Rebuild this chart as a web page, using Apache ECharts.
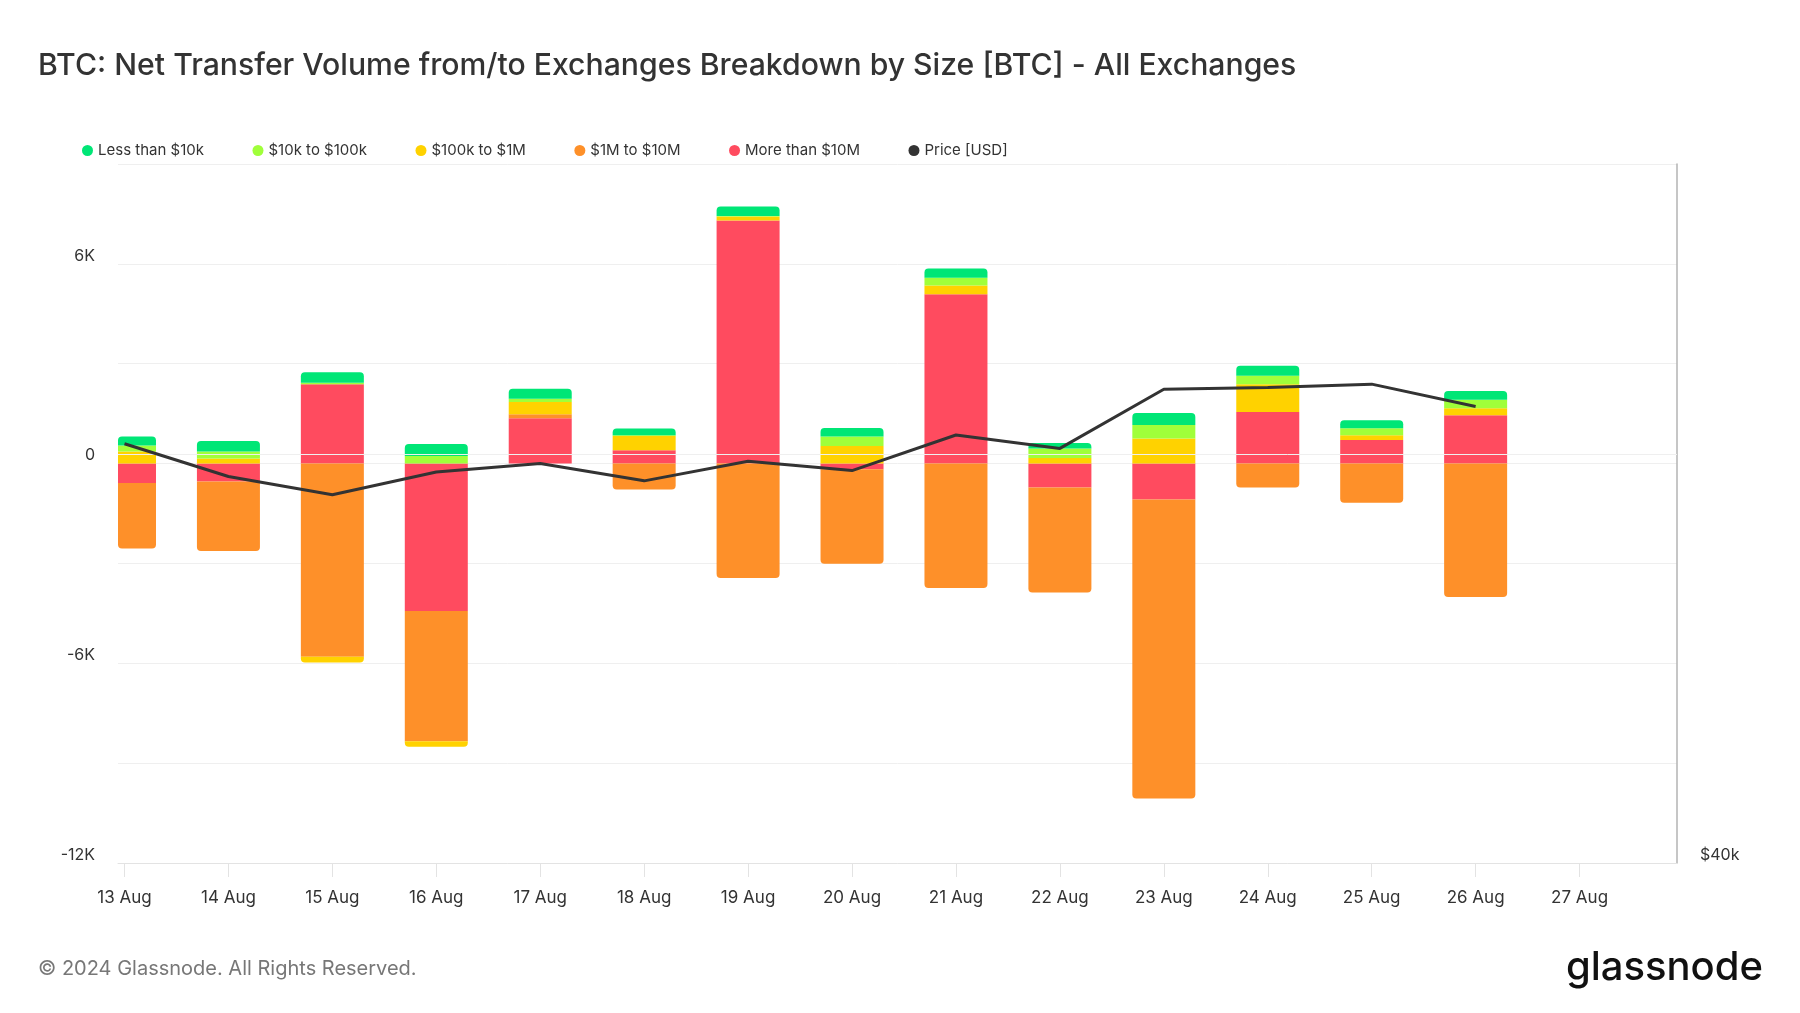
<!DOCTYPE html>
<html>
<head>
<meta charset="utf-8">
<script src="https://cdn.jsdelivr.net/npm/echarts@6/dist/echarts.min.js"></script>
<style>
html,body{margin:0;padding:0;background:#ffffff;}
#chart{width:1800px;height:1013px;}
</style>
</head>
<body>
<div id="chart"></div>
<script>
// ---- data (BTC) ----
const dayLabels = ['13 Aug','14 Aug','15 Aug','16 Aug','17 Aug','18 Aug','19 Aug','20 Aug','21 Aug','22 Aug','23 Aug','24 Aug','25 Aug','26 Aug','27 Aug'];
const lessThan10k   = [270, 320, 310, 360, 300, 200, 280, 260, 280, 170, 360, 300, 240, 260];
const from10kTo100k = [180, 210, 50, 230, 100, 20, 20, 280, 230, 280, 410, 260, 210, 260];
const from100kTo1M  = [360, 150, -180, -170, 370, 430, 120, 530, 260, 170, 750, 830, 140, 210];
const from1MTo10M   = [-1970, -2090, -5800, -3910, 120, -780, -3440, -2840, -3740, -3150, -8980, -720, -1180, -4010];
const moreThan10M   = [-580, -540, 2380, -4430, 1360, 400, 7300, -170, 5090, -720, -1080, 1550, 710, 1450];
const priceUSD      = [60620, 58680, 57630, 58940, 59450, 58430, 59580, 59030, 61150, 60340, 63990, 64100, 64310, 62900];
const leftTickLabels = [-12000, -6000, 0, 6000];
const priceTickLabels = [40000];
const priceGridValues = [60000];

const FONT = 'Inter, "Noto Sans", sans-serif';

// hourly category axis: 12 Aug 23:00 ... 28 Aug 22:00 (hour offsets from 13 Aug 00:00)
const HOURS = 360, FIRST_OFFSET = -1;
const hourOffsets = Array.from({length: HOURS}, (_, h) => h + FIRST_OFFSET);
const slotOfDay = i => i * 24 - FIRST_OFFSET;
const isDayStart = idx => (idx + FIRST_OFFSET) % 24 === 0 && (idx + FIRST_OFFSET) >= 0;

const stackOrder = [
  {name: 'More than $10M', data: moreThan10M,   color: '#ff4b5f'},
  {name: '$1M to $10M',    data: from1MTo10M,   color: '#fe9029'},
  {name: '$100k to $1M',   data: from100kTo1M,  color: '#ffd200'},
  {name: '$10k to $100k',  data: from10kTo100k, color: '#a0ff3a'},
  {name: 'Less than $10k', data: lessThan10k,   color: '#00e676'}
];

const outerPos = [], outerNeg = [];
for (let i = 0; i < priceUSD.length; i++) {
  let p = -1, q = -1;
  stackOrder.forEach((s, k) => { if (s.data[i] > 0) p = k; if (s.data[i] < 0) q = k; });
  outerPos.push(p); outerNeg.push(q);
}

function spread(values, mapItem) {
  const out = new Array(HOURS).fill(null);
  values.forEach((v, i) => { out[slotOfDay(i)] = mapItem(v, i); });
  return out;
}

const barSeries = stackOrder.map((s, k) => ({
  name: s.name,
  type: 'bar',
  stack: 'volume',
  barWidth: 63,
  clip: true,
  z: 2,
  itemStyle: {color: s.color},
  emphasis: {disabled: true},
  data: spread(s.data, (v, i) => ({
    value: v,
    itemStyle: {
      borderRadius: (v > 0 && outerPos[i] === k) ? [4, 4, 0, 0] : ((v < 0 && outerNeg[i] === k) ? [0, 0, 4, 4] : 0)
    }
  }))
}));

const chart = echarts.init(document.getElementById('chart'), null, {renderer: 'canvas'});
chart.setOption({
  animation: false,
  backgroundColor: '#ffffff',
  textStyle: {fontFamily: FONT},
  grid: {left: 118, right: 123, top: 164, bottom: 150, containLabel: false},
  legend: {
    left: 77,
    top: 138,
    icon: 'circle',
    itemWidth: 11,
    itemHeight: 11,
    itemGap: 48.5,
    textStyle: {fontFamily: FONT, fontSize: 15, color: '#333333'},
    data: ['Less than $10k', '$10k to $100k', '$100k to $1M', '$1M to $10M', 'More than $10M', 'Price [USD]'],
    selectedMode: false
  },
  xAxis: {
    type: 'category',
    boundaryGap: true,
    data: hourOffsets,
    axisLine: {show: true, onZero: false, lineStyle: {color: '#e3e3e3', width: 1}},
    axisTick: {show: true, alignWithLabel: true, interval: idx => isDayStart(idx), length: 14, lineStyle: {color: '#e3e3e3'}},
    axisLabel: {
      interval: idx => isDayStart(idx),
      hideOverlap: false,
      formatter: (v, idx) => isDayStart(idx) ? (dayLabels[(idx + FIRST_OFFSET) / 24] || '') : '',
      fontFamily: FONT, fontSize: 17, color: '#333333', margin: 26
    },
    splitLine: {show: false}
  },
  yAxis: [
    {
      type: 'value',
      min: -12000,
      max: 9000,
      interval: 3000,
      axisLine: {show: false},
      axisTick: {show: false},
      splitLine: {show: true, lineStyle: {color: '#efefef', width: 1}},
      axisLabel: {
        formatter: v => leftTickLabels.includes(v) ? (v === 0 ? '0' : (v / 1000) + 'K') : '',
        fontFamily: FONT, fontSize: 16, color: '#333333', margin: 23,
        verticalAlign: 'bottom', padding: [0, 0, 0, 0]
      }
    },
    {
      type: 'log',
      logBase: 10,
      min: 40000,
      max: 80000,
      position: 'right',
      axisLine: {show: true, onZero: false, lineStyle: {color: '#b3b3b3', width: 1.5}},
      axisTick: {show: false},
      splitLine: {show: false},
      axisLabel: {
        customValues: priceTickLabels,
        formatter: v => priceTickLabels.some(t => Math.abs(t - v) < 1) ? '$' + Math.round(v / 1000) + 'k' : '',
        fontFamily: FONT, fontSize: 16, color: '#333333', margin: 23,
        verticalAlign: 'bottom', padding: [0, 0, 0, 0]
      }
    }
  ],
  series: [
    {
      name: 'priceGrid',
      type: 'line',
      yAxisIndex: 1,
      data: [],
      z: 1,
      silent: true,
      markLine: {
        silent: true,
        symbol: 'none',
        label: {show: false},
        lineStyle: {color: '#efefef', width: 1, type: 'solid'},
        data: priceGridValues.map(v => ({yAxis: v}))
      }
    },
    ...barSeries,
    {
      name: 'Price [USD]',
      type: 'line',
      yAxisIndex: 1,
      z: 5,
      symbol: 'none',
      showSymbol: false,
      connectNulls: true,
      itemStyle: {color: '#333333'},
      lineStyle: {color: '#333333', width: 3},
      emphasis: {disabled: true},
      data: spread(priceUSD, v => v)
    }
  ],
  graphic: [
    {
      type: 'text',
      style: {
        x: 38, y: 66, text: 'BTC: Net Transfer Volume from/to Exchanges Breakdown by Size [BTC] - All Exchanges',
        font: '500 30.2px ' + FONT, fill: '#333333',
        textAlign: 'left', textVerticalAlign: 'middle', align: 'left', verticalAlign: 'middle'
      }
    },
    {
      type: 'text',
      style: {
        x: 38, y: 969, text: '© 2024 Glassnode. All Rights Reserved.',
        font: '400 20px ' + FONT, fill: '#777777',
        textAlign: 'left', textVerticalAlign: 'middle', align: 'left', verticalAlign: 'middle'
      }
    },
    {
      type: 'text',
      style: {
        x: 1763, y: 968, text: 'glassnode',
        font: '500 40px ' + FONT, fill: '#111111',
        textAlign: 'right', textVerticalAlign: 'middle', align: 'right', verticalAlign: 'middle'
      }
    }
  ]
});
</script>
</body>
</html>
